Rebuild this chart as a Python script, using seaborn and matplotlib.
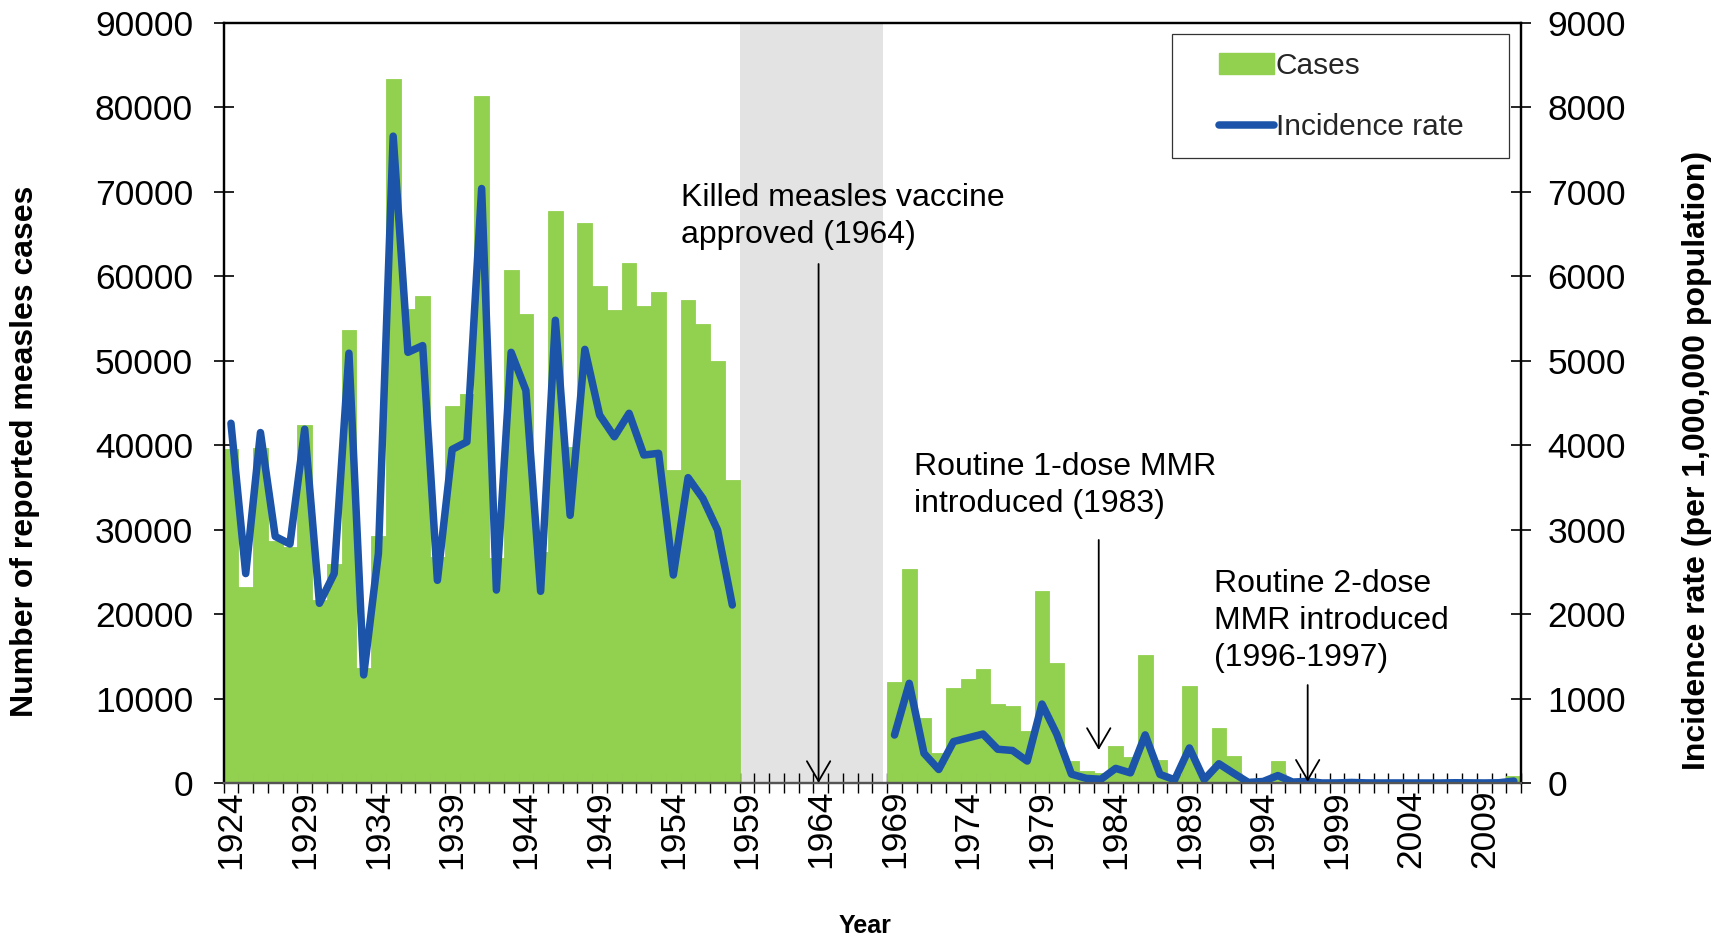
import numpy as np
import pandas as pd
import matplotlib
matplotlib.use("Agg")
import matplotlib.pyplot as plt
from matplotlib.patches import Patch, Rectangle
from matplotlib.lines import Line2D
import seaborn as sns

# Reported measles cases and incidence rate (per 1,000,000 population)
years_pre = list(range(1924, 1959))
cases_pre = [39500, 23200, 39700, 28600, 28000, 42400, 21700, 25900, 53700, 13600,
             29300, 83400, 56100, 57700, 26800, 44700, 46100, 81300, 26600, 60700,
             55500, 27300, 67700, 39800, 66300, 58800, 56000, 61600, 56500, 58100,
             37100, 57200, 54300, 50000, 35900]
rate_pre = [4260, 2480, 4150, 2920, 2830, 4190, 2128, 2480, 5090, 1280,
            2720, 7660, 5100, 5180, 2400, 3950, 4040, 7040, 2285, 5100,
            4650, 2270, 5480, 3170, 5135, 4358, 4100, 4378, 3884, 3904,
            2463, 3616, 3371, 2996, 2108]

years_post = list(range(1969, 2012))
cases_post = [12000, 25400, 7700, 3500, 11200, 12300, 13500, 9400, 9100, 6200,
              22700, 14200, 2600, 1400, 1200, 4400, 3100, 15200, 2700, 1000,
              11500, 1100, 6500, 3200, 200, 550, 2600, 330, 580, 12,
              30, 200, 40, 8, 18, 9, 6, 6, 100, 60,
              13, 100, 800]
rate_post = [568, 1180, 351, 160, 490, 535, 580, 400, 385, 260,
             935, 580, 105, 55, 44, 173, 120, 570, 102, 38,
             415, 40, 228, 115, 7, 18, 88, 11, 19, 0.4,
             1.0, 6.5, 1.3, 0.3, 0.6, 0.3, 0.2, 0.2, 3.0, 1.8,
             0.4, 2.9, 23]

all_years = list(range(1924, 2012))
label_years = list(range(1924, 2012, 5))

annotations = [
    ("Killed measles vaccine\napproved (1964)", 1964),
    ("Routine 1-dose MMR\nintroduced (1983)", 1983),
    ("Routine 2-dose\nMMR introduced\n(1996-1997)", 1997),
]

GREEN = "#92D050"
BLUE = "#1B54A8"
GREY = "#E3E3E3"
FS_TICK = 25.5
FS_TEXT = 23

sns.set_theme(style="white")
plt.rcParams["font.family"] = ["Liberation Sans", "DejaVu Sans"]

pos = {y: i for i, y in enumerate(all_years)}

fig = plt.figure(figsize=(17.27, 9.36), dpi=100)
ax = fig.add_axes([0.12947, 0.16346, 0.75136, 0.81197])

# Period without surveillance data
ax.axvspan(pos[1959] - 0.5, pos[1968] + 0.2, color=GREY, lw=0, zorder=0)

cases_df = pd.DataFrame({"year": years_pre + years_post,
                         "cases": cases_pre + cases_post})
sns.barplot(data=cases_df, x="year", y="cases", order=all_years, color=GREEN,
            saturation=1, width=1.0, errorbar=None, linewidth=0.6,
            edgecolor=GREEN, ax=ax, zorder=2)

ax.set_ylim(0, 90000)
ax.set_yticks(np.arange(0, 90001, 10000))
ax.set_xlim(-0.5, len(all_years) - 0.5)

ax2 = ax.twinx()
for yrs, rates in ((years_pre, rate_pre), (years_post, rate_post)):
    seg = pd.DataFrame({"pos": [pos[y] for y in yrs], "rate": rates})
    sns.lineplot(data=seg, x="pos", y="rate", ax=ax2, color=BLUE, linewidth=5.4,
                 solid_joinstyle="round", solid_capstyle="round", errorbar=None)
ax2.set_ylim(0, 9000)
ax2.set_yticks(np.arange(0, 9001, 1000))
ax2.set_xlim(-0.5, len(all_years) - 0.5)

# X axis: year boundaries as ticks, labels every five years
ax.set_xticks([pos[y] for y in label_years])
ax.set_xticklabels([str(y) for y in label_years], rotation=90, fontsize=FS_TICK)
ax.set_xticks(np.arange(-0.5, len(all_years), 1.0), minor=True)
ax.tick_params(axis="x", which="major", length=0, pad=5)
ax.tick_params(axis="x", which="minor", direction="inout", length=14,
               width=1.0, color="black", bottom=True)
ax.tick_params(axis="y", direction="inout", length=14, width=1.2,
               labelsize=FS_TICK, pad=15, left=True, colors="black")
ax2.tick_params(axis="y", direction="inout", length=14, width=1.2,
                labelsize=FS_TICK, pad=12, right=True, colors="black")
ax.tick_params(axis="both", labelcolor="black")

for a in (ax, ax2):
    for side in ("left", "right", "top"):
        a.spines[side].set_color("black")
        a.spines[side].set_linewidth(1.6)
    a.spines["bottom"].set_color("#555555")
    a.spines["bottom"].set_linewidth(1.6)

ax.set_xlabel("Year", fontsize=18, fontweight="bold", color="black")
ax.xaxis.set_label_coords(0.494, -0.172)
ax.set_ylabel("Number of reported measles cases", fontsize=FS_TEXT,
              fontweight="bold", color="black")
ax.yaxis.set_label_coords(-0.1415, 0.436)
ax2.set_ylabel("Incidence rate (per 1,000,000 population)", fontsize=FS_TEXT,
               fontweight="bold", color="black")
ax2.yaxis.set_label_coords(1.1239, 0.425)

# Vaccine milestones
text_spots = {1964: (30.5, 6708), 1983: (46.34, 3521), 1997: (66.65, 1916)}
arrow_spans = {1964: (39.85, 6146, 0), 1983: (58.85, 2878, 391),
               1997: (73.02, 1160, 15)}
for label, yr in annotations:
    tx, ty = text_spots[yr]
    ax2.text(tx, ty, label, fontsize=FS_TEXT, ha="left", va="center",
             linespacing=1.3, color="black", zorder=6)
    axx, ytop, ytip = arrow_spans[yr]
    ax2.annotate("", xy=(axx, ytip), xytext=(axx, ytop),
                 arrowprops=dict(arrowstyle="->,head_length=1.2,head_width=0.7",
                                 color="black", lw=1.3, shrinkA=0, shrinkB=0),
                 zorder=6)

# Legend
ax2.add_patch(Rectangle((0.7309, 0.8230), 0.9906 - 0.7309, 0.9855 - 0.8230,
                        transform=ax2.transAxes, facecolor="white",
                        edgecolor="#333333", lw=0.9, zorder=7))
handles = [Patch(facecolor=GREEN, edgecolor=GREEN),
           Line2D([], [], color=BLUE, lw=5.4, solid_capstyle="round")]
leg = ax2.legend(handles, ["Cases", "Incidence rate"], loc="upper left",
                 bbox_to_anchor=(0.7671, 0.962), frameon=False, fontsize=21.5,
                 handlelength=1.85, handletextpad=0.05, labelspacing=1.12,
                 borderpad=0, borderaxespad=0)
leg.set_zorder(8)

fig.savefig("out.png", dpi=100)
